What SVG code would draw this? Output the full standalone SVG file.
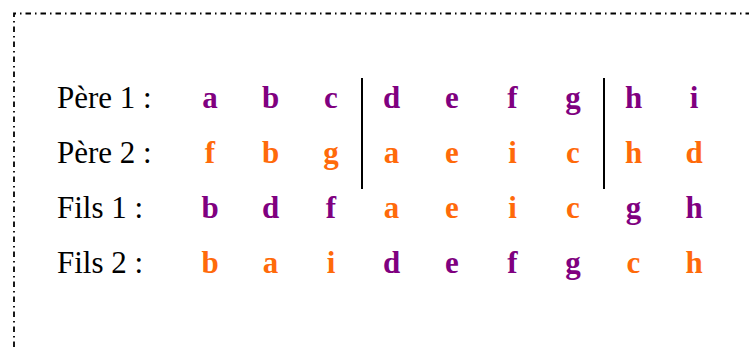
<svg xmlns="http://www.w3.org/2000/svg" width="749" height="347" viewBox="0 0 749 347">
<style>
.lbl{font-family:"Liberation Serif","Times New Roman",serif;font-size:31px;fill:#000}
.g{font-family:"Liberation Serif","Times New Roman",serif;font-size:31px;font-weight:bold;text-anchor:middle}
.p{fill:#800080}
.o{fill:#ff6a0a}
.border{fill:none;stroke:#000;stroke-width:1.8;stroke-dasharray:5.5 4 1.5 4}
.sep{stroke:#000;stroke-width:2}
</style>
<rect width="749" height="347" fill="#fff"/>
<path class="border" d="M14,347 L14,13.5 L749,13.5"/>
<g id="separators">
<line class="sep" x1="362" y1="78" x2="362" y2="189"/>
<line class="sep" x1="604" y1="78" x2="604" y2="189"/>
</g>
<g id="pere1">
<text class="lbl" x="57" y="108">Père 1 :</text>
<text class="g p" x="210" y="108">a</text>
<text class="g p" x="270.5" y="108">b</text>
<text class="g p" x="331" y="108">c</text>
<text class="g p" x="391.5" y="108">d</text>
<text class="g p" x="452" y="108">e</text>
<text class="g p" x="512.5" y="108">f</text>
<text class="g p" x="573" y="108">g</text>
<text class="g p" x="633.5" y="108">h</text>
<text class="g p" x="694" y="108">i</text>
</g>
<g id="pere2">
<text class="lbl" x="57" y="163">Père 2 :</text>
<text class="g o" x="210" y="163">f</text>
<text class="g o" x="270.5" y="163">b</text>
<text class="g o" x="331" y="163">g</text>
<text class="g o" x="391.5" y="163">a</text>
<text class="g o" x="452" y="163">e</text>
<text class="g o" x="512.5" y="163">i</text>
<text class="g o" x="573" y="163">c</text>
<text class="g o" x="633.5" y="163">h</text>
<text class="g o" x="694" y="163">d</text>
</g>
<g id="fils1">
<text class="lbl" x="57" y="218">Fils 1 :</text>
<text class="g p" x="210" y="218">b</text>
<text class="g p" x="270.5" y="218">d</text>
<text class="g p" x="331" y="218">f</text>
<text class="g o" x="391.5" y="218">a</text>
<text class="g o" x="452" y="218">e</text>
<text class="g o" x="512.5" y="218">i</text>
<text class="g o" x="573" y="218">c</text>
<text class="g p" x="633.5" y="218">g</text>
<text class="g p" x="694" y="218">h</text>
</g>
<g id="fils2">
<text class="lbl" x="57" y="273">Fils 2 :</text>
<text class="g o" x="210" y="273">b</text>
<text class="g o" x="270.5" y="273">a</text>
<text class="g o" x="331" y="273">i</text>
<text class="g p" x="391.5" y="273">d</text>
<text class="g p" x="452" y="273">e</text>
<text class="g p" x="512.5" y="273">f</text>
<text class="g p" x="573" y="273">g</text>
<text class="g o" x="633.5" y="273">c</text>
<text class="g o" x="694" y="273">h</text>
</g>
</svg>
